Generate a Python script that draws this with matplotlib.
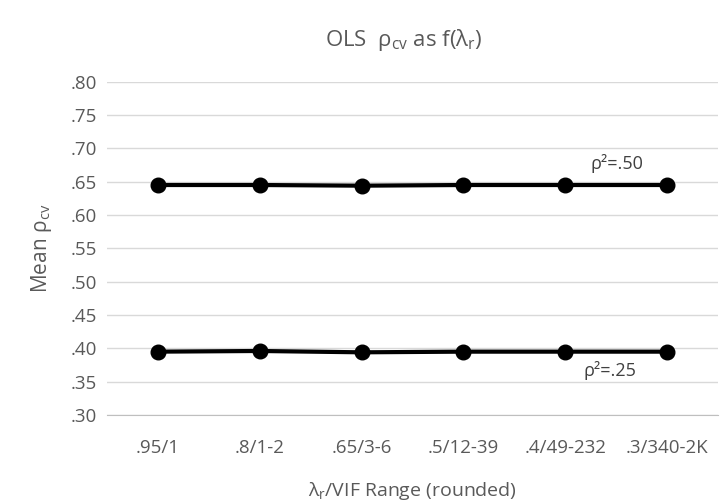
import matplotlib
matplotlib.use("Agg")
import matplotlib.pyplot as plt

categories = [".95/1", ".8/1-2", ".65/3-6", ".5/12-39", ".4/49-232", ".3/340-2K"]
rho50 = [0.645, 0.645, 0.644, 0.645, 0.645, 0.645]
rho25 = [0.395, 0.396, 0.394, 0.395, 0.395, 0.395]
yticks = [0.30, 0.35, 0.40, 0.45, 0.50, 0.55, 0.60, 0.65, 0.70, 0.75, 0.80]

plt.rcParams['font.family'] = ['Open Sans', 'DejaVu Sans']
plt.rcParams['mathtext.fontset'] = 'custom'
plt.rcParams['mathtext.rm'] = 'Open Sans'
plt.rcParams['mathtext.it'] = 'Open Sans'

txt = '#595959'
fig = plt.figure(figsize=(7.21, 5.03), dpi=100)
ax = fig.add_axes([0.1484, 0.175, 0.8474, 0.6626])
x = list(range(len(categories)))
for vals in (rho50, rho25):
    ax.plot(x, vals, color='black', lw=3, marker='o', markersize=10.5, zorder=3)

ax.set_xlim(-0.5, len(categories) - 0.5)
ax.set_ylim(0.30, 0.80)
ax.set_yticks(yticks)
ax.set_yticklabels([f"{v:.2f}"[1:] for v in yticks])
ax.set_xticks(x)
ax.set_xticklabels(categories)
ax.grid(axis='y', color='#d9d9d9', lw=1)
ax.set_axisbelow(True)
for s in ['top', 'right', 'left']:
    ax.spines[s].set_visible(False)
ax.spines['bottom'].set_color('#bfbfbf')
ax.tick_params(axis='both', length=0, labelsize=13.5, colors=txt)
ax.tick_params(axis='y', pad=7)
ax.tick_params(axis='x', pad=17)

ax.text(4.51, 0.678, 'ρ²=.50', ha='center', va='center', fontsize=13, color='#404040')
ax.text(4.44, 0.366, 'ρ²=.25', ha='center', va='center', fontsize=13, color='#404040')

ax.set_ylabel(r'Mean ρ$_{\mathrm{cv}}$', fontsize=15, color=txt, labelpad=12)
ax.set_xlabel(r'λ$_{\mathrm{r}}$/VIF Range (rounded)', fontsize=14, color=txt, labelpad=17)
fig.text(0.56, 0.92, r'OLS  ρ$_{\mathrm{cv}}$ as f(λ$_{\mathrm{r}}$)', ha='center', va='center', fontsize=16, color=txt)

fig.savefig('out.png', dpi=100)
